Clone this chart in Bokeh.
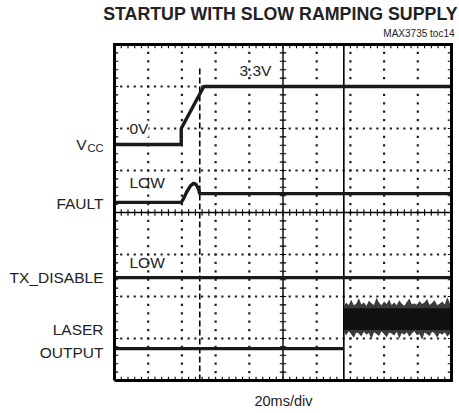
from bokeh.plotting import figure
from bokeh.models import Range1d, Label
from bokeh.embed import file_html
from bokeh.resources import INLINE

# ---- data (time in ms, 20 ms/div; level in divisions from bottom) ----
vcc_t = [0, 39.6, 39.6, 53.0, 200]
vcc_d = [5.62, 5.62, 6.0, 7.0, 7.0]

fault_t = [0, 39.6, 41.0, 43.0, 45.0, 47.0, 48.5, 50.0, 50.5, 200]
fault_d = [4.24, 4.24, 4.33, 4.50, 4.63, 4.70, 4.66, 4.55, 4.45, 4.45]

tx_t = [0, 200]
tx_d = [2.45, 2.45]

laser_off_t = [0, 136.1]
laser_off_d = [0.76, 0.76]

laser_t = [136.2, 137.5, 139, 140.5, 142, 143.5, 145, 146.5, 148, 149.5, 151,
           152.5, 154, 155.5, 157, 158.5, 160, 161.5, 163, 164.5, 166, 167.5,
           169, 170.5, 172, 173.5, 175, 176.5, 178, 179.5, 181, 182.5, 184,
           185.5, 187, 188.5, 190, 191.5, 193, 194.5, 196, 197.5, 199, 200]
laser_hi = [1.78, 1.85, 1.80, 1.92, 1.79, 1.83, 1.96, 1.81, 1.86, 1.78, 1.90,
            1.84, 1.80, 1.97, 1.85, 1.79, 1.88, 1.82, 1.93, 1.80, 1.86, 1.79,
            1.91, 1.83, 1.78, 1.87, 1.95, 1.81, 1.84, 1.79, 1.89, 1.82, 1.86,
            1.94, 1.80, 1.85, 1.91, 1.79, 1.83, 1.88, 1.81, 1.98, 1.84, 1.80]
laser_lo = [1.15, 1.08, 1.17, 1.10, 1.02, 1.14, 1.12, 1.05, 1.16, 1.09, 1.13,
            0.98, 1.15, 1.11, 1.06, 1.17, 1.10, 1.03, 1.14, 1.12, 1.07, 1.16,
            1.00, 1.13, 1.09, 1.15, 1.04, 1.12, 1.17, 1.08, 1.11, 0.97, 1.14,
            1.10, 1.06, 1.16, 1.12, 1.02, 1.13, 1.09, 1.15, 1.05, 1.11, 1.14]

trigger_t = 136.1
cursor_t = 50.6

FONT = "Liberation Sans"
INK = "#1a1a1a"

# canvas geometry: scope screen occupies pixels x 114..451, y 44..380
W, H = 457, 411
X0, X1, Y0, Y1 = 114.0, 451.0, 44.0, 380.0
def tx(px):
    return (px - X0) / (X1 - X0) * 200.0
def dy(py):
    return (Y1 - py) / (Y1 - Y0) * 8.0

p = figure(width=W, height=H, output_backend="svg", toolbar_location=None,
           x_range=Range1d(tx(0), tx(W)), y_range=Range1d(dy(H), dy(0)),
           x_axis_type=None, y_axis_type=None,
           min_border=0)
p.grid.visible = False
p.background_fill_color = "white"
p.border_fill_color = "white"
p.outline_line_color = None

# ---- graticule ----
gx, gy = [], []
for k in range(1, 8):
    if k == 4:
        continue
    for i in range(0, 51):
        gx.append(i * 4.0)
        gy.append(float(k))
for k in range(1, 10):
    if k == 5:
        continue
    for j in range(0, 41):
        gx.append(k * 20.0)
        gy.append(j * 0.2)
p.scatter(gx, gy, size=2.2, marker="square", color="#1e1e1e", line_width=0)

# center cross
p.line([0, 200], [4, 4], color="black", line_width=1.4)
p.line([100, 100], [0, 8], color="black", line_width=1.4)
sx0, sx1, sy0, sy1 = [], [], [], []
for i in range(1, 50):
    sx0.append(i * 4.0); sx1.append(i * 4.0); sy0.append(4 - 0.08); sy1.append(4 + 0.08)
for j in range(1, 40):
    sx0.append(100 - 1.9); sx1.append(100 + 1.9); sy0.append(j * 0.2); sy1.append(j * 0.2)
# border ticks
for i in range(1, 50):
    sx0 += [i * 4.0, i * 4.0]; sx1 += [i * 4.0, i * 4.0]
    sy0 += [8.0, 0.0]; sy1 += [8 - 0.09, 0.09]
for j in range(1, 40):
    sx0 += [0.0, 200.0]; sx1 += [2.2, 200 - 2.2]
    sy0 += [j * 0.2, j * 0.2]; sy1 += [j * 0.2, j * 0.2]
p.segment(sx0, sy0, sx1, sy1, color="black", line_width=1.1)

# cursors
p.line([trigger_t, trigger_t], [0, 8], color="black", line_width=1.6)
p.line([cursor_t, cursor_t], [0, 7.5], color="black", line_width=1.6, line_dash="6 3")

# ---- traces ----
p.line(vcc_t, vcc_d, color=INK, line_width=3.4)
p.line(fault_t, fault_d, color=INK, line_width=3.4)
p.line(tx_t, tx_d, color=INK, line_width=3.4)
p.line(laser_off_t, laser_off_d, color=INK, line_width=3.4)
p.varea(x=laser_t, y1=laser_lo, y2=laser_hi, fill_color="#3a3a3a")
p.varea(x=[136.2, 200], y1=[1.2, 1.2], y2=[1.72, 1.72], fill_color="#111111")

# scope outline
p.line([0, 200, 200, 0, 0], [0, 0, 8, 8, 0], color="black", line_width=3,
       line_join="miter")

# ---- text ----
def lab(x, y, text, size="15px", align="left", style="normal", baseline="middle",
        bg=None):
    p.add_layout(Label(x=x, y=y, text=text, text_font=FONT, text_font_size=size,
                       text_align=align, text_baseline=baseline,
                       text_font_style=style, text_color="#222222",
                       background_fill_color=bg))

lab(tx(280), dy(13.5), "STARTUP WITH SLOW RAMPING SUPPLY", size="17.8px", align="center", style="bold")
lab(tx(454), dy(32.5), "MAX3735 toc14", size="10px", align="right")
lab(74.2, 7.38, "3.3V", size="15.5px")
lab(8.9, 5.99, "0V", size="15.5px", bg="white")
lab(8.9, 4.71, "LOW", size="15.5px")
lab(8.9, 2.81, "LOW", size="15.5px")
lab(tx(283), dy(400), "20ms/div", size="14.5px", align="center")

lab(tx(86), dy(144), "V", size="15.5px", align="right")
lab(tx(103), dy(147.5), "CC", size="11px", align="right")
lab(tx(103), dy(203), "FAULT", size="15.5px", align="right")
lab(tx(103), dy(277), "TX_DISABLE", size="15.5px", align="right")
lab(tx(103), dy(329), "LASER", size="15.5px", align="right")
lab(tx(103), dy(352), "OUTPUT", size="15.5px", align="right")

open("out.html", "w").write(file_html(p, INLINE))
